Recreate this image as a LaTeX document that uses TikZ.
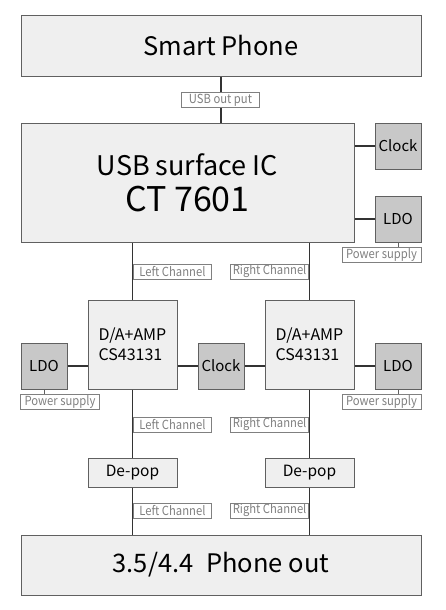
\documentclass[tikz,border=0pt]{standalone}
\usepackage{fontspec}
\setmainfont{Noto Sans CJK JP}
\newfontfamily\tagfont[FakeStretch=0.9]{Noto Sans CJK JP}
\usetikzlibrary{positioning}

\definecolor{boxfill}{HTML}{EFEFEF}
\definecolor{partfill}{HTML}{C8C8C8}
\definecolor{edge}{HTML}{606060}
\definecolor{tagtext}{HTML}{808080}

\tikzset{
  block/.style={draw=edge,fill=boxfill,line width=1pt,inner sep=0pt},
  part/.style={block,fill=partfill,minimum width=46pt,minimum height=46pt,font=\fontsize{15}{18}\selectfont},
  chip/.style={block,minimum width=89pt,minimum height=89pt,align=left,font=\fontsize{16}{20}\selectfont},
  tagbox/.style={draw=edge!80,fill=white,line width=0.8pt,text=tagtext,inner sep=0pt,
    minimum height=15pt,minimum width=78pt,font=\tagfont\fontsize{12.5}{13}\selectfont},
  wire/.style={line width=1.3pt,draw=black!80},
}

\begin{document}
\begin{tikzpicture}[x=1pt,y=-1pt]
  \useasboundingbox (0,0) rectangle (446,610);

  % main blocks
  \node[block,minimum width=400pt,minimum height=60pt,font=\fontsize{25.5}{30}\selectfont] (phone) at (221,46) {Smart Phone};
  \node[block,minimum width=333pt,minimum height=119pt,align=center] (usbic) at (187.5,182.5)
    {\fontsize{27}{30}\selectfont USB surface IC\\[9pt]\fontsize{34}{36}\selectfont CT 7601};
  \node[part] (clk1) at (398,146) {Clock};
  \node[part] (ldo1) at (398,219) {LDO};

  \node[chip] (dacl) at (132.5,344.5) {D/A+AMP\\CS43131};
  \node[chip] (dacr) at (309.5,344.5) {D/A+AMP\\CS43131};
  \node[part] (ldol) at (44,366) {LDO};
  \node[part] (clk2) at (221,366) {Clock};
  \node[part] (ldor) at (398,366) {LDO};

  \node[block,minimum width=89pt,minimum height=29pt,font=\fontsize{15.5}{18}\selectfont] (depopl) at (132.5,472.5) {De-pop};
  \node[block,minimum width=89pt,minimum height=29pt,font=\fontsize{15.5}{18}\selectfont] (depopr) at (309.5,472.5) {De-pop};

  \node[block,minimum width=400pt,minimum height=60pt,font=\fontsize{25.5}{30}\selectfont] (out) at (221,565) {3.5/4.4\enspace Phone out};

  % wires
  \draw[wire] (phone.south) -- (phone.south |- usbic.north);
  \draw[wire] (clk1.west) -- (clk1.west -| usbic.east);
  \draw[wire] (ldo1.west) -- (ldo1.west -| usbic.east);
  \draw[wire] (dacl.north) -- (dacl.north |- usbic.south);
  \draw[wire] (dacr.north) -- (dacr.north |- usbic.south);
  \draw[wire] (ldol.east) -- (ldol.east -| dacl.west);
  \draw[wire] (clk2.west) -- (clk2.west -| dacl.east);
  \draw[wire] (clk2.east) -- (clk2.east -| dacr.west);
  \draw[wire] (ldor.west) -- (ldor.west -| dacr.east);
  \draw[wire] (dacl.south) -- (depopl.north);
  \draw[wire] (dacr.south) -- (depopr.north);
  \draw[wire] (depopl.south) -- (depopl.south |- out.north);
  \draw[wire] (depopr.south) -- (depopr.south |- out.north);

  % labels
  \node[tagbox] (usbout) at (220.5,100) {USB out put};
  \node[tagbox,minimum width=79pt] (ps1) at (381.5,254.5) {Power supply};
  \node[tagbox,minimum width=79pt] (ps2) at (60,401.5) {Power supply};
  \node[tagbox,minimum width=79pt] (ps3) at (381.5,401.5) {Power supply};
  \draw[line width=0.8pt,draw=edge] (ldo1.south) -- (ldo1.south |- ps1.north);
  \draw[line width=0.8pt,draw=edge] (ldol.south) -- (ldol.south |- ps2.north);
  \draw[line width=0.8pt,draw=edge] (ldor.south) -- (ldor.south |- ps3.north);

  \node[tagbox,anchor=west] (lc1) at (133,271.5) {Left Channel};
  \node[tagbox,anchor=east] (rc1) at (309,271.5) {Right Channel};
  \node[tagbox,anchor=west] (lc2) at (133,424.5) {Left Channel};
  \node[tagbox,anchor=east] (rc2) at (309,424.5) {Right Channel};
  \node[tagbox,anchor=west] (lc3) at (133,510.5) {Left Channel};
  \node[tagbox,anchor=east] (rc3) at (309,510.5) {Right Channel};
\end{tikzpicture}
\end{document}
